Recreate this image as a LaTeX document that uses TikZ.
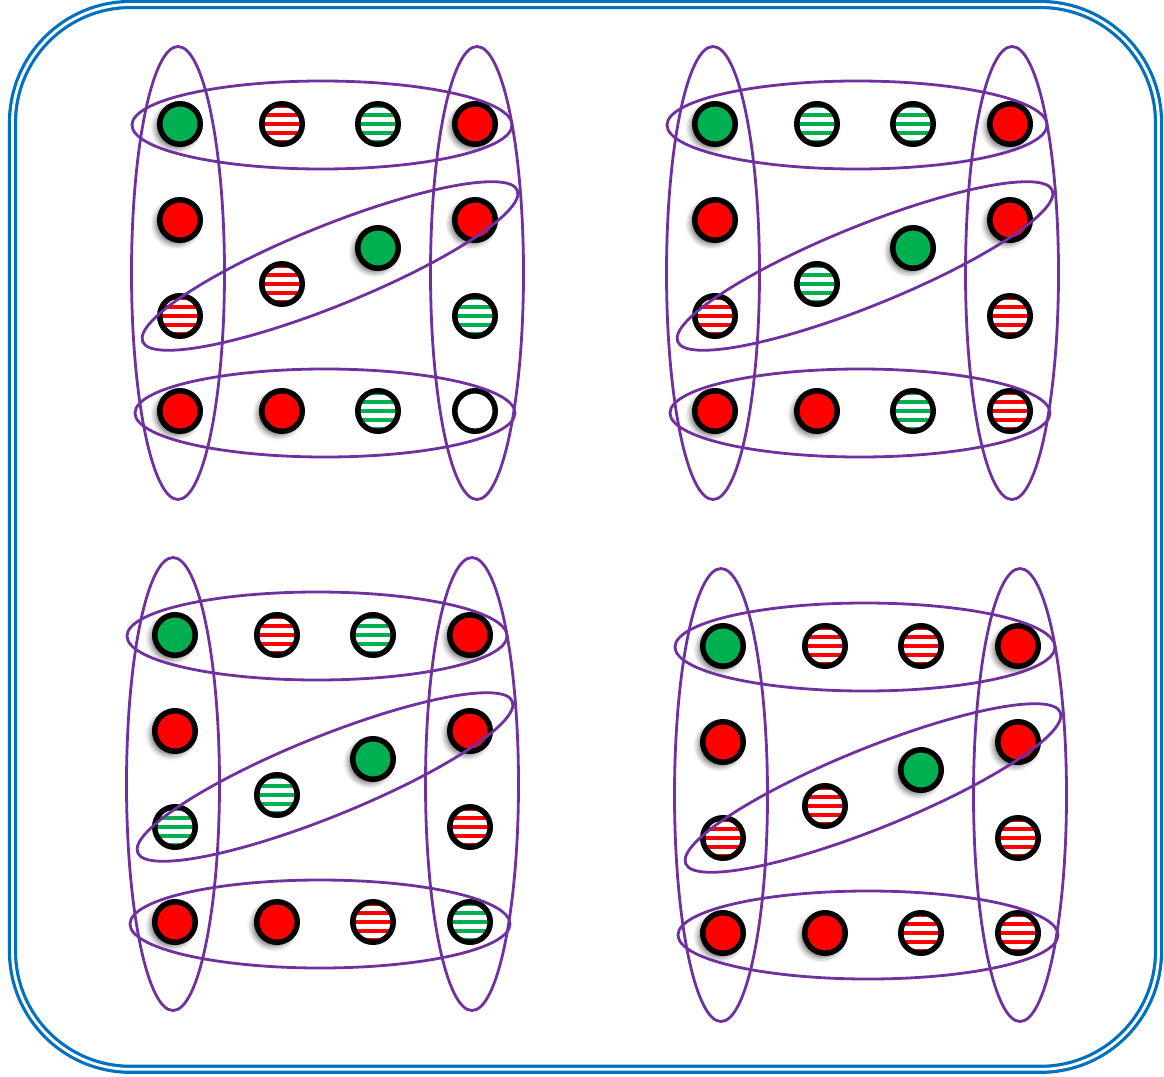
\documentclass[tikz,border=0pt]{standalone}
\usetikzlibrary{shadows.blur}
\definecolor{cred}{HTML}{FF0000}
\definecolor{cgreen}{HTML}{00B050}
\definecolor{cpurple}{HTML}{7030A0}
\definecolor{cblue}{HTML}{0070C0}
\tikzset{
  dot/.style={circle, draw=black, line width=5.5pt, minimum size=40.5pt, inner sep=0pt},
  shd/.style={blur shadow={shadow xshift=-3.5pt, shadow yshift=-3.5pt, shadow blur radius=6pt, shadow opacity=65}},
  dR/.style={dot, fill=cred, shd},
  dG/.style={dot, fill=cgreen, shd},
  dW/.style={dot, fill=white},
  stripes/.style={dot, fill=white, path picture={
      \foreach \k in {-2,...,2}{
        \fill[#1] ([xshift=-25pt, yshift=\k*9pt-2.4pt]path picture bounding box.center) rectangle ++(50pt,4.8pt);}}},
  sR/.style={stripes=cred},
  sG/.style={stripes=cgreen},
  ring/.style={draw=cpurple, line width=2.8pt},
  frame/.style={draw=cblue, line width=3.2pt, double=white, double distance=2.8pt, rounded corners=118pt}
}
\newcommand\myrings{%
  \draw[ring] (-2,149) ellipse [x radius=46.5, y radius=226.5];
  \draw[ring] (297,149) ellipse [x radius=46.5, y radius=226.5];
  \draw[ring] (142,1) ellipse [x radius=190, y radius=44];
  \draw[ring] (145,289) ellipse [x radius=190, y radius=44];
  \draw[ring, shift={(150,142)}, rotate=22] (0,0) ellipse [x radius=202, y radius=40];
}
\begin{document}
\begin{tikzpicture}[x=1pt, y=-1pt]
\useasboundingbox (0,0) rectangle (1164,1076);
\draw[frame] (12.5,4.5) rectangle (1158.5,1069.3);

% Panel A (top-left)
\begin{scope}[shift={(180,124)}]
\node[dG] (A1) at (0,0) {};
\node[sR] (A2) at (102,0) {};
\node[sG] (A3) at (198,0) {};
\node[dR] (A4) at (295,0) {};
\node[dR] (A5) at (0,96) {};
\node[dR] (A6) at (295,96) {};
\node[sR] (A7) at (0,192) {};
\node[sR] (A8) at (102,160) {};
\node[dG] (A9) at (198,124) {};
\node[sG] (A10) at (295,192) {};
\node[dR] (A11) at (0,287) {};
\node[dR] (A12) at (102,287) {};
\node[sG] (A13) at (198,287) {};
\node[dW] (A14) at (295,287) {};
\myrings
\end{scope}

% Panel B (top-right)
\begin{scope}[shift={(715,124)}]
\node[dG] (B1) at (0,0) {};
\node[sG] (B2) at (102,0) {};
\node[sG] (B3) at (198,0) {};
\node[dR] (B4) at (295,0) {};
\node[dR] (B5) at (0,96) {};
\node[dR] (B6) at (295,96) {};
\node[sR] (B7) at (0,192) {};
\node[sG] (B8) at (102,160) {};
\node[dG] (B9) at (198,124) {};
\node[sR] (B10) at (295,192) {};
\node[dR] (B11) at (0,287) {};
\node[dR] (B12) at (102,287) {};
\node[sG] (B13) at (198,287) {};
\node[sR] (B14) at (295,287) {};
\myrings
\end{scope}

% Panel C (bottom-left)
\begin{scope}[shift={(175,635)}]
\node[dG] (C1) at (0,0) {};
\node[sR] (C2) at (102,0) {};
\node[sG] (C3) at (198,0) {};
\node[dR] (C4) at (295,0) {};
\node[dR] (C5) at (0,96) {};
\node[dR] (C6) at (295,96) {};
\node[sG] (C7) at (0,192) {};
\node[sG] (C8) at (102,160) {};
\node[dG] (C9) at (198,124) {};
\node[sR] (C10) at (295,192) {};
\node[dR] (C11) at (0,287) {};
\node[dR] (C12) at (102,287) {};
\node[sR] (C13) at (198,287) {};
\node[sG] (C14) at (295,287) {};
\myrings
\end{scope}

% Panel D (bottom-right)
\begin{scope}[shift={(723,646)}]
\node[dG] (D1) at (0,0) {};
\node[sR] (D2) at (102,0) {};
\node[sR] (D3) at (198,0) {};
\node[dR] (D4) at (295,0) {};
\node[dR] (D5) at (0,96) {};
\node[dR] (D6) at (295,96) {};
\node[sR] (D7) at (0,192) {};
\node[sR] (D8) at (102,160) {};
\node[dG] (D9) at (198,124) {};
\node[sR] (D10) at (295,192) {};
\node[dR] (D11) at (0,287) {};
\node[dR] (D12) at (102,287) {};
\node[sR] (D13) at (198,287) {};
\node[sR] (D14) at (295,287) {};
\myrings
\end{scope}
\end{tikzpicture}
\end{document}
